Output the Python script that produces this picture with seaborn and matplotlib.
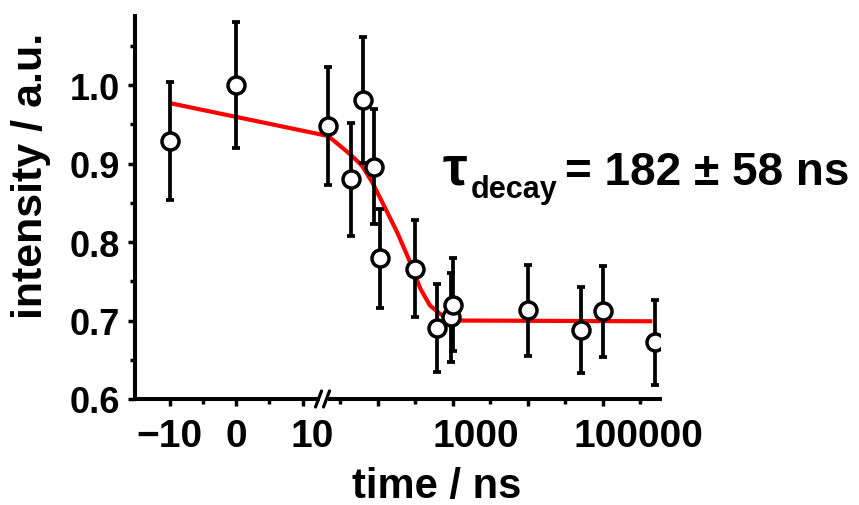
import numpy as np
import pandas as pd
import matplotlib
matplotlib.use("Agg")
import matplotlib.pyplot as plt
import matplotlib.transforms as mtransforms
from matplotlib.ticker import FixedLocator, FixedFormatter
import seaborn as sns

# ---- data ----
time_ns = [-10, 0, 22, 44, 64, 89, 107, 320, 620, 960, 1000, 10000, 51000, 100000, 500000]
intensity = [0.929, 1.000, 0.948, 0.880, 0.981, 0.896, 0.779, 0.766, 0.690, 0.704,
             0.720, 0.713, 0.688, 0.712, 0.672]
intensity_err = [0.075, 0.080, 0.075, 0.072, 0.080, 0.073, 0.063, 0.062, 0.056, 0.057,
                 0.059, 0.058, 0.055, 0.058, 0.054]

fit_time = [-10, 22, 44, 62, 85, 122, 183, 261, 374, 500, 690, 1030, 460000]
fit_intensity = [0.977, 0.935, 0.911, 0.897, 0.876, 0.846, 0.812, 0.778, 0.740,
                 0.719, 0.708, 0.700, 0.699]

major_ticks = [-10, 0, 10, 100, 1000, 10000, 100000]
major_labels = ["\u221210", "0", "10", "", "1000", "", "100000"]
minor_ticks = [-5, 5, 10**1.5, 10**2.5, 10**3.5, 10**4.5, 10**5.5]
y_major = [0.6, 0.7, 0.8, 0.9, 1.0]
y_major_labels = ["0.6", "0.7", "0.8", "0.9", "1.0"]
y_minor = [0.65, 0.75, 0.85, 0.95, 1.05]

# ---- style ----
sns.set_style("ticks")
plt.rcParams["font.family"] = ["Liberation Sans", "DejaVu Sans"]
plt.rcParams["font.weight"] = "bold"
for key in ["text.color", "axes.labelcolor", "xtick.color", "ytick.color",
            "axes.edgecolor", "xtick.labelcolor", "ytick.labelcolor"]:
    plt.rcParams[key] = "black"

fig = plt.figure(figsize=(8.59, 5.06), dpi=100)
ax = fig.add_axes([0.1572, 0.2095, 0.6112, 0.757])

# broken axis: linear up to 10 ns, logarithmic beyond
K = 11.28  # width of one decade in linear-axis units


def fwd(x):
    x = np.asarray(x, dtype=float)
    xs = np.where(x > 10, x, 10.0)
    return np.where(x <= 10, x, 10 + K * np.log10(xs / 10.0))


def inv(y):
    y = np.asarray(y, dtype=float)
    ys = np.where(y > 10, y, 10.0)
    with np.errstate(over="ignore"):
        return np.where(y <= 10, y, 10.0 * 10 ** ((ys - 10) / K))


ax.set_xscale("function", functions=(fwd, inv))
ax.set_xlim(-15.2, 5.83e5)
ax.set_ylim(0.6, 1.088)

df = pd.DataFrame({"t": time_ns, "I": intensity, "e": intensity_err})
fit = pd.DataFrame({"t": fit_time, "I": fit_intensity})

sns.lineplot(data=fit, x="t", y="I", sort=False, color="#ff0000", lw=3.0,
             ax=ax, zorder=2, solid_capstyle="butt")
ax.errorbar(df["t"], df["I"], yerr=df["e"], fmt="none", ecolor="black",
            elinewidth=2.7, capsize=3.2, capthick=2.7, zorder=3)
sns.scatterplot(data=df, x="t", y="I", marker="o", s=150, color="white",
                edgecolor="black", linewidth=2.5, ax=ax, zorder=4)

# spines / ticks
for side in ["top", "right"]:
    ax.spines[side].set_visible(False)
for side in ["left", "bottom"]:
    ax.spines[side].set_linewidth(2.9)
    ax.spines[side].set_color("black")

ax.xaxis.set_major_locator(FixedLocator(major_ticks))
ax.xaxis.set_major_formatter(FixedFormatter(major_labels))
ax.xaxis.set_minor_locator(FixedLocator(minor_ticks))
ax.yaxis.set_major_locator(FixedLocator(y_major))
ax.yaxis.set_major_formatter(FixedFormatter(y_major_labels))
ax.yaxis.set_minor_locator(FixedLocator(y_minor))

ax.tick_params(axis="both", which="major", direction="out", length=5, width=2.5,
               color="black", labelcolor="black")
ax.tick_params(axis="both", which="minor", direction="out", length=3.5, width=2.5,
               color="black")
ax.tick_params(axis="x", which="major", pad=9, labelsize=28)
ax.tick_params(axis="y", which="major", pad=6, labelsize=26)
for lab in ax.get_xticklabels() + ax.get_yticklabels():
    lab.set_fontweight("bold")

# shift the x tick labels as in the reference
label_shift_px = {"10": 10, "1000": 23, "100000": 36}
fig.canvas.draw()
for lab in ax.get_xticklabels():
    dx = label_shift_px.get(lab.get_text(), 0)
    if dx:
        lab.set_transform(lab.get_transform() +
                          mtransforms.ScaledTranslation(dx / fig.dpi, 0, fig.dpi_scale_trans))

ax.set_xlabel("time / ns", fontsize=30, fontweight="bold", color="black")
ax.set_ylabel("intensity / a.u.", fontsize=31, fontweight="bold", color="black")
ax.xaxis.set_label_coords(0.575, -0.175)
ax.yaxis.set_label_coords(-0.16, 0.585)

# axis-break marker
to_axes = ax.transScale + ax.transLimits
xb = to_axes.transform((19.0, 0.6))[0]
px = 1.0 / 525.0
py = 1.0 / 383.0
ax.add_patch(plt.Rectangle((xb - 4 * px, -4 * py), 8 * px, 8 * py, transform=ax.transAxes,
                           facecolor="white", edgecolor="none", clip_on=False, zorder=6))
for off in (-5, 3):
    ax.plot([xb + (off - 3) * px, xb + (off + 3) * px], [-8 * py, 8 * py],
            transform=ax.transAxes, color="black", lw=2.3, clip_on=False, zorder=7)

# annotation: tau_decay = 182 ± 58 ns
ax.text(0.5855, 0.5614, "\u03c4", transform=ax.transAxes, fontsize=40,
        fontweight="bold", ha="left", va="baseline", clip_on=False, color="black")
ax.text(0.640, 0.5274, "decay", transform=ax.transAxes, fontsize=22,
        fontweight="bold", ha="left", va="baseline", clip_on=False, color="black")
ax.text(0.819, 0.5614, "= 182 \u00b1 58 ns", transform=ax.transAxes, fontsize=33,
        fontweight="bold", ha="left", va="baseline", clip_on=False, color="black")

fig.savefig("out.png", dpi=100)
